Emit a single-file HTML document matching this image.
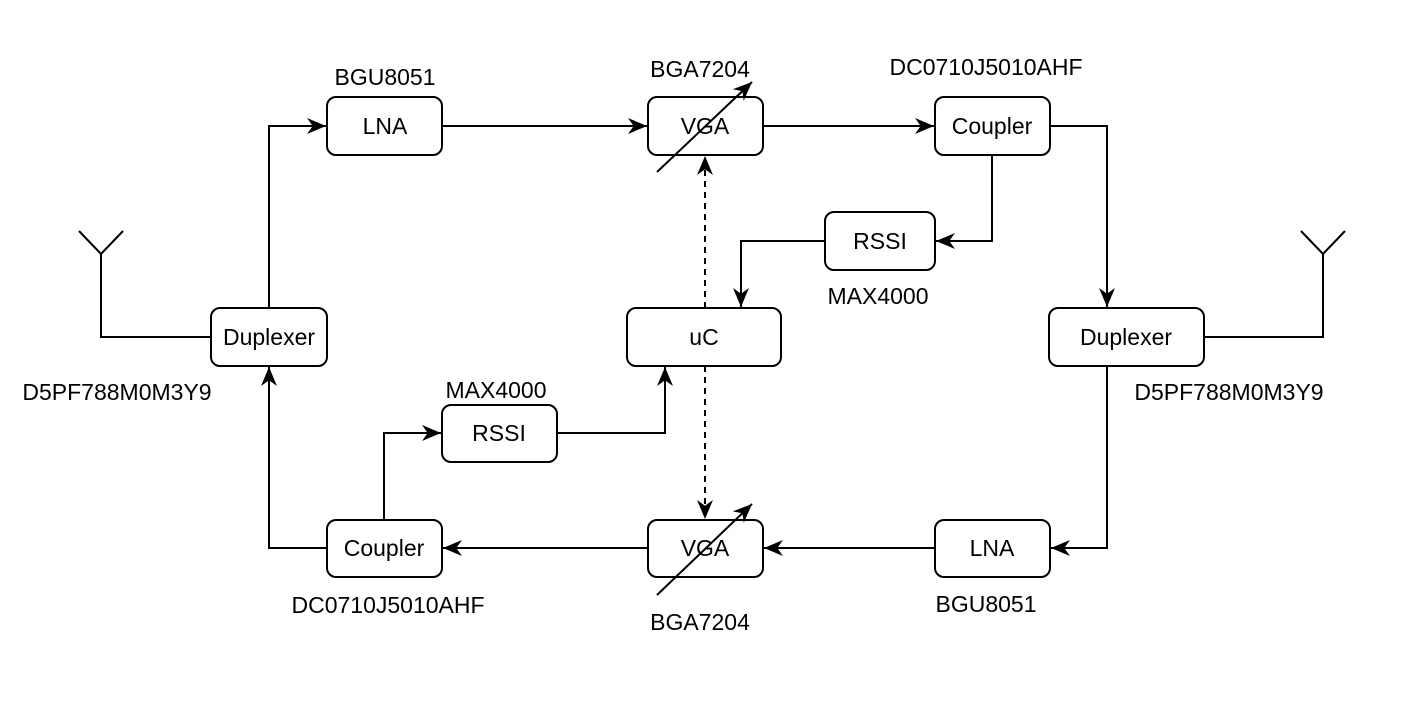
<!DOCTYPE html>
<html><head><meta charset="utf-8"><style>
html,body{margin:0;padding:0;background:#fff;}
svg{display:block;}
text{font-family:"Liberation Sans",Arial,sans-serif;font-size:23px;fill:#000;}
</style></head><body>
<svg width="1401" height="719" viewBox="0 0 1401 719">
<defs>
<marker id="a" viewBox="0 0 10 10" refX="10" refY="5" markerWidth="19" markerHeight="19" markerUnits="userSpaceOnUse" orient="auto">
<path d="M0,0.8 L10,5 L0,9.2 L3,5 Z" fill="#000"/>
</marker>
</defs>
<g fill="#fff" stroke="#000" stroke-width="2">
<rect x="327" y="97" width="115" height="58" rx="9"/>
<rect x="648" y="97" width="115" height="58" rx="9"/>
<rect x="935" y="97" width="115" height="58" rx="9"/>
<rect x="825" y="212" width="110" height="58" rx="9"/>
<rect x="627" y="308" width="154" height="58" rx="9"/>
<rect x="211" y="308" width="116" height="58" rx="9"/>
<rect x="1049" y="308" width="155" height="58" rx="9"/>
<rect x="442" y="405" width="115" height="57" rx="9"/>
<rect x="327" y="520" width="115" height="57" rx="9"/>
<rect x="648" y="520" width="115" height="57" rx="9"/>
<rect x="935" y="520" width="115" height="57" rx="9"/>
</g>
<g fill="none" stroke="#000" stroke-width="2">
<polyline points="79,231 101,254 123,231"/>
<polyline points="101,254 101,337 211,337"/>
<polyline points="1301,231 1323,254 1345,231"/>
<polyline points="1323,254 1323,337 1204,337"/>
<polyline points="269,308 269,126 326,126" marker-end="url(#a)"/>
<polyline points="442,126 647,126" marker-end="url(#a)"/>
<polyline points="763,126 934,126" marker-end="url(#a)"/>
<polyline points="1050,126 1107,126 1107,307" marker-end="url(#a)"/>
<polyline points="992,155 992,241 936,241" marker-end="url(#a)"/>
<polyline points="825,241 741,241 741,307" marker-end="url(#a)"/>
<polyline points="705,308 705,156" stroke-dasharray="6,5" marker-end="url(#a)"/>
<polyline points="705,366 705,519" stroke-dasharray="6,5" marker-end="url(#a)"/>
<polyline points="1107,366 1107,548 1051,548" marker-end="url(#a)"/>
<polyline points="935,548 764,548" marker-end="url(#a)"/>
<polyline points="648,548 443,548" marker-end="url(#a)"/>
<polyline points="327,548 269,548 269,367" marker-end="url(#a)"/>
<polyline points="384,520 384,433 441,433" marker-end="url(#a)"/>
<polyline points="557,433 665,433 665,367" marker-end="url(#a)"/>
<line x1="657" y1="172" x2="752" y2="82" marker-end="url(#a)"/>
<line x1="657" y1="595" x2="752" y2="504" marker-end="url(#a)"/>
</g>
<g text-anchor="middle">
<text x="385" y="134">LNA</text>
<text x="705" y="134">VGA</text>
<text x="992" y="134">Coupler</text>
<text x="880" y="249">RSSI</text>
<text x="704" y="345">uC</text>
<text x="269" y="345">Duplexer</text>
<text x="1126" y="345">Duplexer</text>
<text x="499" y="441">RSSI</text>
<text x="384" y="556">Coupler</text>
<text x="705" y="556">VGA</text>
<text x="992" y="556">LNA</text>
<text x="385" y="85">BGU8051</text>
<text x="700" y="77">BGA7204</text>
<text x="986" y="75">DC0710J5010AHF</text>
<text x="878" y="304">MAX4000</text>
<text x="117" y="400">D5PF788M0M3Y9</text>
<text x="1229" y="400">D5PF788M0M3Y9</text>
<text x="496" y="398">MAX4000</text>
<text x="388" y="613">DC0710J5010AHF</text>
<text x="700" y="630">BGA7204</text>
<text x="986" y="612">BGU8051</text>
</g>
</svg>
</body></html>
